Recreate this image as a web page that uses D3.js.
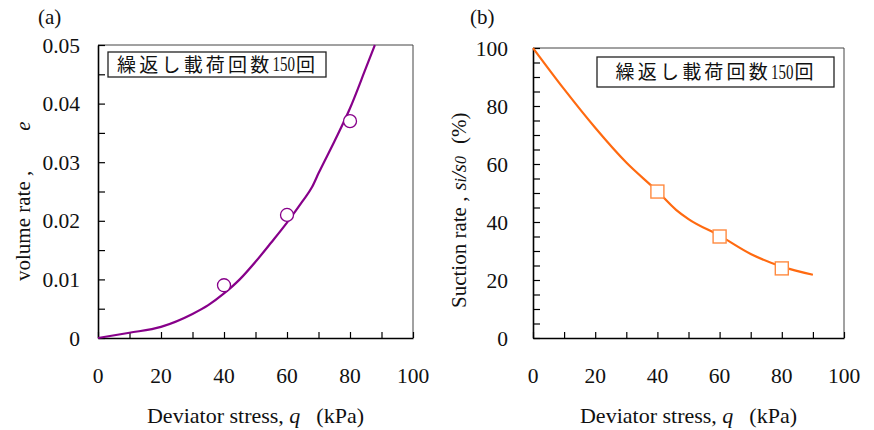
<!DOCTYPE html>
<html><head><meta charset="utf-8">
<script src="https://cdn.jsdelivr.net/npm/d3@7"></script>
<style>
body{margin:0;background:#fff;}
text{font-family:"Liberation Serif","Noto Sans CJK JP",serif;fill:#111;}
</style></head>
<body><svg id="chart" width="874" height="430"></svg>
<script>
// ---- data ----
const xTicks = [0, 20, 40, 60, 80, 100];
const volTickLabels = ["0", "0.01", "0.02", "0.03", "0.04", "0.05"];
const volTicks = [0, 0.01, 0.02, 0.03, 0.04, 0.05];
const sucTicks = [0, 20, 40, 60, 80, 100];

const volCurveQ = [0, 10, 20, 30, 35, 40, 45, 50, 55, 60, 65, 68, 70, 75, 80, 85, 87.9];
const volCurveE = [0, 0.0009, 0.0019, 0.0041, 0.0056, 0.0076, 0.0100, 0.0130, 0.0163, 0.0197, 0.0234, 0.0258, 0.0281, 0.0335, 0.0392, 0.0460, 0.0500];
const volPointQ = [40, 60, 80];
const volPointE = [0.009, 0.021, 0.037];

const sucCurveQ = [0, 10, 20, 30, 40, 46, 50, 60, 70, 80, 90];
const sucCurveS = [100, 85.8, 72.5, 60.5, 50.6, 44.2, 41.0, 35.3, 29.0, 24.6, 21.8];
const sucPointQ = [40, 60, 80];
const sucPointS = [50.5, 35.0, 24.0];

const legendKanji1 = "繰返し載荷回数";
const legendNumber = "150";
const legendKanji2 = "回";

const svg = d3.select("#chart");

function legend(g, box) {
  g.append("rect").attr("x", box[0]).attr("y", box[1]).attr("width", box[2]).attr("height", box[3])
    .attr("fill", "#fff").attr("stroke", "#222").attr("stroke-width", 1.3);
  const cy = box[1] + box[3] / 2 + 7;
  const t1 = g.append("text").attr("font-family", "Noto Sans CJK JP").attr("font-size", 19)
    .attr("letter-spacing", 3.2).attr("y", cy).text(legendKanji1);
  const sx = 0.68;
  const t2 = g.append("text").attr("font-family", "Liberation Serif").attr("font-size", 22).text(legendNumber);
  const t3 = g.append("text").attr("font-family", "Noto Sans CJK JP").attr("font-size", 19).attr("y", cy).text(legendKanji2);
  const w1 = t1.node().getComputedTextLength();
  const w2 = t2.node().getComputedTextLength() * sx;
  const w3 = t3.node().getComputedTextLength();
  const total = w1 + w2 + 1 + w3;
  let x0 = box[0] + box[2] / 2 - total / 2 - 1;
  t1.attr("x", x0);
  t2.attr("transform", `translate(${x0 + w1},${cy - 0.5}) scale(${sx},1)`);
  t3.attr("x", x0 + w1 + w2 + 1);
}

function panel(opt) {
  const g = svg.append("g");
  const x = d3.scaleLinear().domain([0, 100]).range([opt.x0, opt.x1]);
  const y = d3.scaleLinear().domain(opt.yDomain).range([opt.y1, opt.y0]);
  // frame top/right
  g.append("line").attr("x1", opt.x0).attr("x2", opt.x1).attr("y1", opt.y0).attr("y2", opt.y0)
    .attr("stroke", "#444").attr("stroke-width", 1);
  g.append("line").attr("x1", opt.x1).attr("x2", opt.x1).attr("y1", opt.y0).attr("y2", opt.y1)
    .attr("stroke", "#444").attr("stroke-width", 1);
  // x axis (inward ticks)
  const xa = g.append("g").attr("transform", `translate(0,${opt.y1})`)
    .call(d3.axisBottom(x).tickValues(d3.range(0, 101, 10)).tickSizeInner(-6).tickSizeOuter(0).tickFormat(""));
  xa.select(".domain").attr("stroke", "#000").attr("stroke-width", 1.6);
  xa.selectAll(".tick line").attr("stroke", "#000").attr("stroke-width", 1.2);
  g.selectAll(".xl").data(xTicks).join("text")
    .attr("x", d => x(d)).attr("y", 383).attr("text-anchor", "middle")
    .attr("font-size", 21.5).text(d => d);
  // y axis
  const ya = g.append("g").attr("transform", `translate(${opt.x0},0)`)
    .call(d3.axisLeft(y).tickValues(opt.minorTicks).tickSizeInner(-7).tickSizeOuter(0).tickFormat(""));
  ya.select(".domain").attr("stroke", "#000").attr("stroke-width", 1.6);
  ya.selectAll(".tick line").attr("stroke", "#000").attr("stroke-width", 1.2);
  g.selectAll(".yl").data(opt.yTicks).join("text")
    .attr("x", opt.x0 - opt.labelGap).attr("y", d => y(d)).attr("dy", "0.35em")
    .attr("text-anchor", "end").attr("font-size", 21.5)
    .text((d, i) => opt.yLabels[i]);
  // x title
  const xt = g.append("text").attr("x", (opt.x0 + opt.x1) / 2).attr("y", 423)
    .attr("text-anchor", "middle").attr("font-size", 22).attr("xml:space", "preserve");
  xt.append("tspan").text("Deviator stress, ");
  xt.append("tspan").attr("font-style", "italic").text("q");
  xt.append("tspan").attr("dx", 16).text("(kPa)");
  // panel label
  g.append("text").attr("x", opt.labX).attr("y", 24).attr("font-size", 21).text(opt.panelLabel);
  legend(g, opt.box);
  return {g, x, y};
}

// Panel (a)
const A = panel({x0: 98, x1: 413, y0: 45, y1: 338, yDomain: [0, 0.05],
  yTicks: volTicks, yLabels: volTickLabels, minorTicks: d3.range(0, 0.0501, 0.005),
  labelGap: 18, panelLabel: "(a)", labX: 38, box: [108, 52, 218, 25]});
const lineA = d3.line().x(d => A.x(d[0])).y(d => A.y(d[1])).curve(d3.curveMonotoneX);
A.g.append("path").datum(volCurveQ.map((q, i) => [q, volCurveE[i]]))
  .attr("d", lineA).attr("fill", "none").attr("stroke", "#87008a").attr("stroke-width", 2.2);
A.g.selectAll(".pt").data(volPointQ.map((q, i) => [q, volPointE[i]])).join("circle")
  .attr("cx", d => A.x(d[0])).attr("cy", d => A.y(d[1])).attr("r", 6.5)
  .attr("fill", "#fff").attr("stroke", "#87008a").attr("stroke-width", 1.3);
const ytA = A.g.append("text").attr("transform", "translate(30,281) rotate(-90)")
  .attr("text-anchor", "start").attr("font-size", 21).attr("xml:space", "preserve");
ytA.append("tspan").text("volume rate ,");
ytA.append("tspan").attr("dx", 40).attr("font-style", "italic").text("e");

// Panel (b)
const B = panel({x0: 533, x1: 844, y0: 48, y1: 338, yDomain: [0, 100],
  yTicks: sucTicks, yLabels: sucTicks.map(String), minorTicks: d3.range(0, 101, 5),
  labelGap: 25, panelLabel: "(b)", labX: 470, box: [597, 57, 237, 30]});
const lineB = d3.line().x(d => B.x(d[0])).y(d => B.y(d[1])).curve(d3.curveMonotoneX);
B.g.append("path").datum(sucCurveQ.map((q, i) => [q, sucCurveS[i]]))
  .attr("d", lineB).attr("fill", "none").attr("stroke", "#ff6a10").attr("stroke-width", 2.2);
B.g.selectAll(".pt").data(sucPointQ.map((q, i) => [q, sucPointS[i]])).join("rect")
  .attr("x", d => B.x(d[0]) - 6.5).attr("y", d => B.y(d[1]) - 6.5).attr("width", 13).attr("height", 13)
  .attr("fill", "#fff").attr("stroke", "#ff8a40").attr("stroke-width", 1.4);
const ytB = B.g.append("text").attr("transform", "translate(466,308) rotate(-90)")
  .attr("text-anchor", "start").attr("font-size", 21).attr("xml:space", "preserve");
ytB.append("tspan").text("Suction rate ,");
ytB.append("tspan").attr("dx", 6).attr("font-style", "italic").text("s");
ytB.append("tspan").attr("font-style", "italic").attr("font-size", 16).text("i");
ytB.append("tspan").attr("font-style", "italic").text("/s");
ytB.append("tspan").attr("font-style", "italic").attr("font-size", 16).text("0");
ytB.append("tspan").attr("dx", 12).text("(%)");
</script></body></html>
